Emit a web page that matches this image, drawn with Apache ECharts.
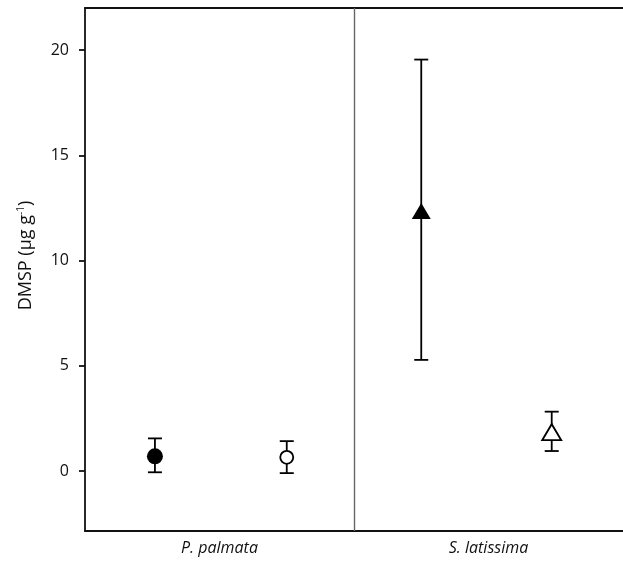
<!DOCTYPE html>
<html>
<head>
<meta charset="utf-8">
<script src="https://cdn.jsdelivr.net/npm/echarts@6/dist/echarts.min.js"></script>
<style>html,body{margin:0;padding:0;background:#fff;}#c{width:623px;height:563px;}</style>
</head>
<body>
<div id="c"></div>
<script>
// Data
var groups = ['P. palmata', 'S. latissima'];
var groupPos = [1, 3];
var pointPos = [0.52, 1.5, 2.5, 3.47];
var means = [0.7, 0.65, 12.35, 1.85];
var upper = [1.55, 1.42, 19.55, 2.82];
var lower = [-0.06, -0.1, 5.28, 0.95];
var symbols = ['circle', 'circle', 'triangle', 'triangle'];
var filled = [true, false, true, false];
var yTicks = [0, 5, 10, 15, 20];

var chart = echarts.init(document.getElementById('c'));
var font = '"Open Sans", "DejaVu Sans", sans-serif';

var errData = pointPos.map(function (x, i) { return [x, lower[i], upper[i]]; });
var ptData = pointPos.map(function (x, i) {
  return {
    value: [x, means[i]],
    symbol: symbols[i],
    symbolSize: symbols[i] === 'circle' ? (filled[i] ? 16 : 13) : [19, 16],
    itemStyle: filled[i] ? { color: '#000', borderColor: '#000', borderWidth: 0, opacity: 1 }
                         : { color: '#fff', borderColor: '#000', borderWidth: 1.8, opacity: 1 }
  };
});

var lineSt = { color: '#111', width: 1.8 };

chart.setOption({
  animation: false,
  backgroundColor: '#fff',
  grid: { left: 85, right: 0, top: 8, bottom: 32 },
  xAxis: [{
    type: 'value', min: 0, max: 4, position: 'bottom',
    axisLine: { show: true, onZero: false, lineStyle: lineSt },
    axisTick: { show: false },
    splitLine: { show: false },
    axisLabel: {
      customValues: groupPos,
      formatter: function (v) { var k = groupPos.indexOf(v); return k >= 0 ? groups[k] : ''; },
      fontFamily: font, fontSize: 16, fontStyle: 'italic', color: '#111', margin: 9
    }
  }, {
    type: 'value', min: 0, max: 4, position: 'top',
    axisLine: { show: true, onZero: false, lineStyle: lineSt },
    axisTick: { show: false }, axisLabel: { show: false }, splitLine: { show: false }
  }],
  yAxis: {
    type: 'value', min: -2.85, max: 22,
    name: '{a|DMSP (μg g}{s|-1}{a|)}',
    nameLocation: 'middle', nameGap: 49, nameRotate: 90,
    nameTextStyle: {
      padding: [0, 0, 0, 28],
      rich: {
        a: { fontFamily: font, fontSize: 18, color: '#111' },
        s: { fontFamily: font, fontSize: 10, color: '#111', verticalAlign: 'top', padding: [0, 0, 10, 0] }
      }
    },
    axisLine: { show: true, onZero: false, lineStyle: lineSt },
    axisTick: { show: true, customValues: yTicks, length: 6, lineStyle: lineSt },
    axisLabel: { customValues: yTicks, fontFamily: font, fontSize: 16, color: '#111', margin: 16 },
    splitLine: { show: false }
  },
  series: [
    {
      type: 'custom',
      data: errData,
      z: 2,
      renderItem: function (params, api) {
        var x = api.value(0);
        var lo = api.coord([x, api.value(1)]);
        var hi = api.coord([x, api.value(2)]);
        var w = 7;
        var st = { stroke: '#000', lineWidth: 1.8 };
        return {
          type: 'group',
          children: [
            { type: 'line', shape: { x1: lo[0], y1: lo[1], x2: hi[0], y2: hi[1] }, style: st },
            { type: 'line', shape: { x1: hi[0] - w, y1: hi[1], x2: hi[0] + w, y2: hi[1] }, style: st },
            { type: 'line', shape: { x1: lo[0] - w, y1: lo[1], x2: lo[0] + w, y2: lo[1] }, style: st }
          ]
        };
      }
    },
    {
      type: 'scatter',
      z: 3,
      data: ptData,
      markLine: {
        silent: true,
        symbol: ['none', 'none'],
        label: { show: false },
        lineStyle: { color: '#666', width: 1.4, type: 'solid' },
        data: [{ xAxis: 2 }]
      }
    }
  ]
});
</script>
</body>
</html>
